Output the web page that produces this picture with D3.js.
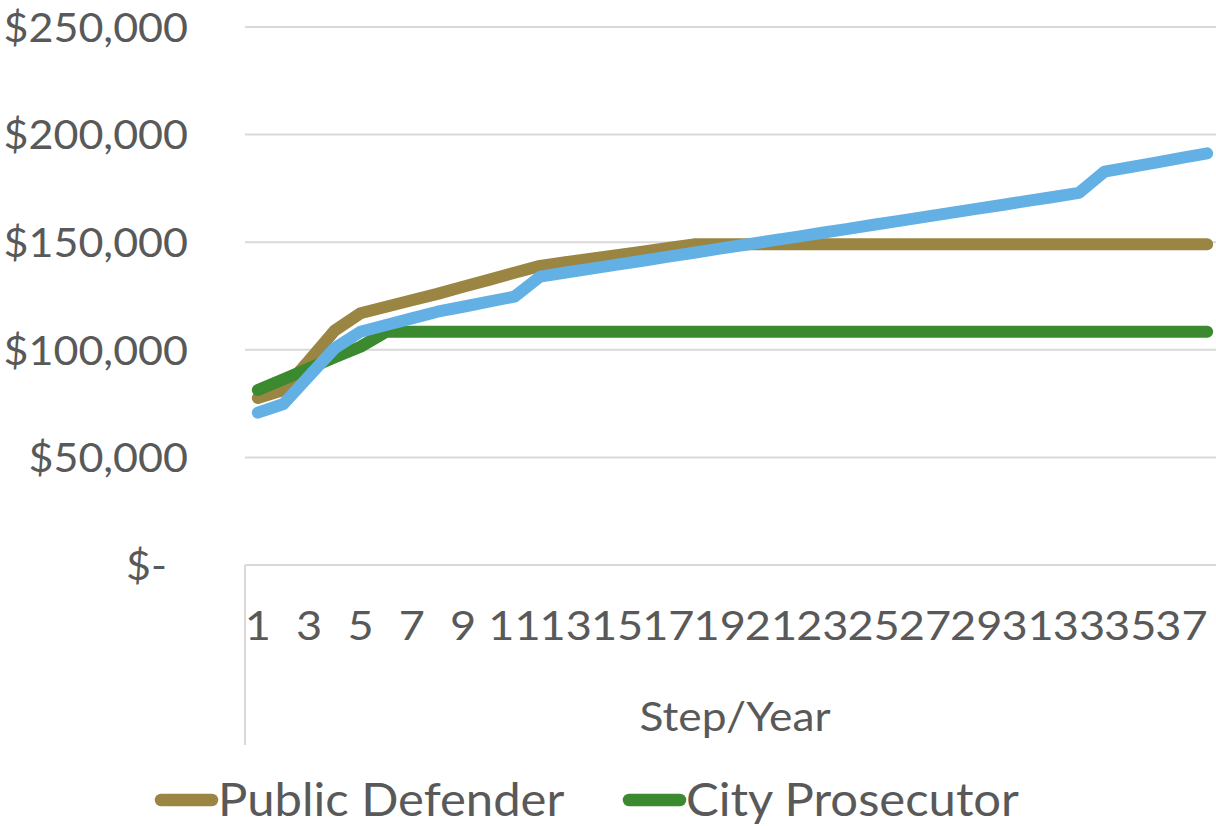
<!DOCTYPE html>
<html>
<head>
<meta charset="utf-8">
<script src="https://cdn.jsdelivr.net/npm/d3@7/dist/d3.min.js"></script>
<style>
  body { margin: 0; background: #fff; }
  text { font-family: Lato, "Noto Sans", sans-serif; fill: #595959; }
</style>
</head>
<body>
<svg id="chart" width="1216" height="826"></svg>
<script>
var steps = [1, 2, 3, 4, 5, 6, 7, 8, 9, 10, 11, 12, 13, 14, 15, 16, 17, 18, 19,
  20, 21, 22, 23, 24, 25, 26, 27, 28, 29, 30, 31, 32, 33, 34, 35, 36, 37, 38];

var publicDefender = [77600, 81300, 95000, 109000, 117000, 120000, 123000, 126000,
  129300, 132500, 135800, 139000, 140700, 142300, 144000, 145600, 147300, 149000,
  149000, 149000, 149000, 149000, 149000, 149000, 149000, 149000, 149000, 149000,
  149000, 149000, 149000, 149000, 149000, 149000, 149000, 149000, 149000, 149000];

var cityProsecutor = [81300, 86300, 91400, 96500, 101400, 108400, 108400, 108400,
  108400, 108400, 108400, 108400, 108400, 108400, 108400, 108400, 108400, 108400,
  108400, 108400, 108400, 108400, 108400, 108400, 108400, 108400, 108400, 108400,
  108400, 108400, 108400, 108400, 108400, 108400, 108400, 108400, 108400, 108400];

// third series, its legend entry is cut off in the original
var thirdSeries = [70800, 74800, 87800, 100800, 108400, 111500, 114600, 117700,
  120000, 122400, 124700, 134000, 135900, 137700, 139600, 141400, 143300, 145100,
  147000, 148800, 150700, 152500, 154400, 156200, 158100, 159900, 161800, 163600,
  165500, 167300, 169200, 171000, 172900, 182800, 184900, 187000, 189200, 191300];

var yTicks = [0, 50000, 100000, 150000, 200000, 250000];
var xTickLabels = [1, 3, 5, 7, 9, 11, 13, 15, 17, 19, 21, 23, 25, 27, 29, 31, 33, 35, 37];

var series = [
  { name: 'Public Defender', values: publicDefender, color: '#9a8542', legend: true },
  { name: 'City Prosecutor', values: cityProsecutor, color: '#3c8a2f', legend: true },
  { name: 'third', values: thirdSeries, color: '#63b1e4', legend: false }
];

var svg = d3.select('#chart');

var x = d3.scalePoint().domain(steps).range([245, 1220]).padding(0.5);
var y = d3.scaleLinear().domain([0, 250000]).range([565, 27]);

// text in the original is a bit wider than Lato, stretch it horizontally
function at(px, py, sx) {
  return 'translate(' + px + ',' + py + ') scale(' + sx + ',1)';
}

// gridlines
svg.append('g').selectAll('line')
  .data(yTicks.filter(function(d) { return d > 0; }))
  .enter().append('line')
  .attr('x1', 245).attr('x2', 1216)
  .attr('y1', function(d) { return y(d); })
  .attr('y2', function(d) { return y(d); })
  .attr('stroke', '#d9d9d9').attr('stroke-width', 2);

// axis box
svg.append('line').attr('x1', 245).attr('x2', 1216).attr('y1', y(0)).attr('y2', y(0))
  .attr('stroke', '#d9d9d9').attr('stroke-width', 2);
svg.append('line').attr('x1', 245).attr('x2', 245).attr('y1', y(0)).attr('y2', 745)
  .attr('stroke', '#d9d9d9').attr('stroke-width', 2);

var money = d3.format(',');
svg.append('g').selectAll('text')
  .data(yTicks)
  .enter().append('text')
  .attr('transform', function(d) { return at(d === 0 ? 167 : 188, y(d), 1.05); })
  .attr('dy', '0.36em')
  .attr('text-anchor', 'end')
  .style('font-size', '41px')
  .text(function(d) { return d === 0 ? '$-' : '$' + money(d); });

svg.append('g').selectAll('text')
  .data(xTickLabels)
  .enter().append('text')
  .attr('transform', function(d) { return at(x(d), 640, 1.1); })
  .attr('text-anchor', 'middle')
  .style('font-size', '41px')
  .text(function(d) { return d; });

svg.append('text')
  .attr('transform', at(735, 731, 1.08))
  .attr('text-anchor', 'middle')
  .style('font-size', '41px')
  .text('Step/Year');

var line = d3.line()
  .x(function(d, i) { return x(steps[i]); })
  .y(function(d) { return y(d); });

svg.append('g').selectAll('path')
  .data(series)
  .enter().append('path')
  .attr('d', function(s) { return line(s.values); })
  .attr('fill', 'none')
  .attr('stroke', function(s) { return s.color; })
  .attr('stroke-width', 12)
  .attr('stroke-linecap', 'round')
  .attr('stroke-linejoin', 'round');

// legend
var legendX = [155, 623];
var legend = svg.append('g').selectAll('g')
  .data(series.filter(function(s) { return s.legend; }))
  .enter().append('g')
  .attr('transform', function(d, i) { return 'translate(' + legendX[i] + ',800)'; });

legend.append('line')
  .attr('x1', 6).attr('x2', 57).attr('y1', 0).attr('y2', 0)
  .attr('stroke', function(d) { return d.color; })
  .attr('stroke-width', 12.5)
  .attr('stroke-linecap', 'round');

legend.append('text')
  .attr('transform', at(63, 16, 1.065))
  .style('font-size', '46px')
  .text(function(d) { return d.name; });
</script>
</body>
</html>
